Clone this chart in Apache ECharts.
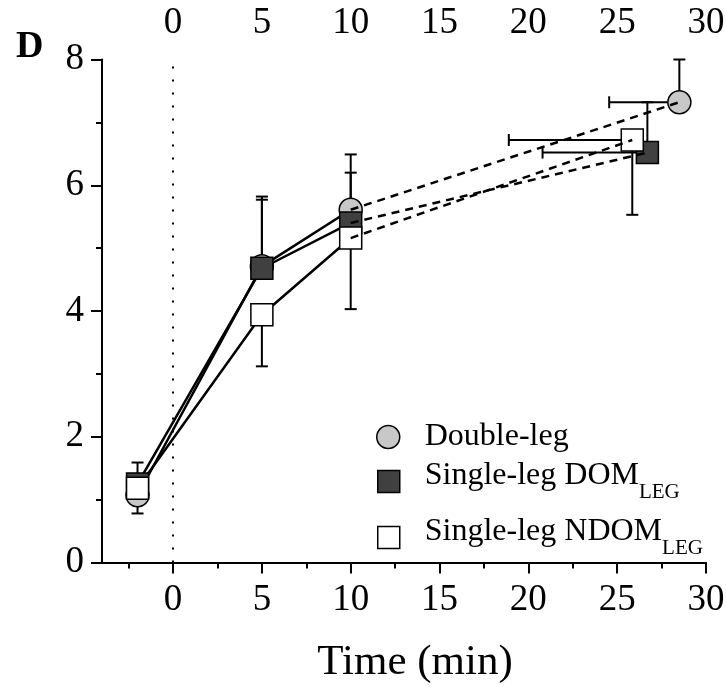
<!DOCTYPE html>
<html>
<head>
<meta charset="utf-8">
<script src="https://cdn.jsdelivr.net/npm/echarts@6/dist/echarts.min.js"></script>
<style>
  html, body { margin: 0; padding: 0; background: #fff; }
  #chart { width: 726px; height: 687px; }
</style>
</head>
<body>
<div id="chart"></div>
<script>
  // axis ticks (min)
  const xTicks = [0, 5, 10, 15, 20, 25, 30]
  const xMinorTicks = [-2.5, 2.5, 7.5, 12.5, 17.5, 22.5, 27.5]

  // group means
  const doubleX = [-2, 5, 10, 28.5]
  const doubleY = [1.07, 4.71, 5.61, 7.32]
  const domX = [-2, 5, 10, 26.7]
  const domY = [1.25, 4.68, 5.40, 6.52]
  const ndomX = [-2, 5, 10, 25.85]
  const ndomY = [1.18, 3.94, 5.16, 6.72]

  // end of the drawn error bar (one side only), null = none
  const doubleYErr = [0.78, 5.82, 6.49, 8.0]
  const doubleXErr = [null, null, null, 24.55]
  const domYErr = [1.59, 5.77, 6.2, 7.32]
  const domXErr = [null, null, null, 20.8]
  const ndomYErr = [null, 3.12, 4.03, 5.53]
  const ndomXErr = [null, null, null, 18.9]

  const FONT = 'Liberation Serif'

  function zip (xs, ys) {
    return xs.map((x, i) => [x, ys[i]])
  }

  function errSegments (xs, ys, yErr, xErr) {
    let out = []
    xs.forEach((x, i) => {
      if (yErr[i] != null) out.push([x, ys[i], x, yErr[i]])
      if (xErr[i] != null) out.push([x, ys[i], xErr[i], ys[i]])
    })
    return out
  }

  const errData = [].concat(
    errSegments(doubleX, doubleY, doubleYErr, doubleXErr),
    errSegments(domX, domY, domYErr, domXErr),
    errSegments(ndomX, ndomY, ndomYErr, ndomXErr)
  )

  function solidLine (xs, ys) {
    return {
      type: 'line', data: zip(xs, ys).slice(0, 3), symbol: 'none', silent: true,
      lineStyle: {color: '#000', width: 2.5}, z: 3
    }
  }
  function dashLine (xs, ys) {
    return {
      type: 'line', data: zip(xs, ys).slice(2), symbol: 'none', silent: true,
      lineStyle: {color: '#000', width: 2.5, type: [8, 6]}, z: 6
    }
  }

  const legendBase = {
    orient: 'vertical',
    padding: 0,
    selectedMode: false,
    itemWidth: 23,
    itemHeight: 23,
    itemStyle: {borderColor: '#000', borderWidth: 1.5},
    textStyle: {
      fontFamily: FONT,
      fontSize: 32,
      color: '#000',
      rich: {
        a: {fontFamily: FONT, fontSize: 32, color: '#000', padding: [0, 0, 0, 20], verticalAlign: 'top'},
        s: {fontFamily: FONT, fontSize: 21, color: '#000', padding: [22, 0, 0, 0], verticalAlign: 'top'}
      }
    },
    formatter: function (name) {
      if (name === 'Double-leg') return '{a|' + name + '}'
      return '{a|' + name + '}{s|LEG}'
    }
  }

  const myChart = echarts.init(document.getElementById('chart'))
  myChart.setOption({
    animation: false,
    title: {
      text: 'D', left: 11, top: 23,
      textStyle: {fontFamily: FONT, fontWeight: 'bold', fontSize: 38, color: '#000'}
    },
    legend: [
      Object.assign({}, legendBase, {data: ['Double-leg'], left: 376, top: 421}),
      Object.assign({}, legendBase, {data: ['Single-leg DOM'], left: 377, top: 460, itemWidth: 22, itemHeight: 22}),
      Object.assign({}, legendBase, {data: ['Single-leg NDOM'], left: 377, top: 516, itemWidth: 22, itemHeight: 22})
    ],
    grid: {left: 102, right: 20, top: 59.5, bottom: 124.5, containLabel: false, outerBoundsMode: 'none'},
    xAxis: [{
      type: 'value', position: 'bottom', min: -4, max: 30,
      name: 'Time (min)', nameLocation: 'middle', nameGap: 79,
      nameTextStyle: {fontFamily: FONT, fontSize: 43, color: '#000', padding: [0, 0, 0, 22]},
      axisLine: {onZero: false, lineStyle: {color: '#000', width: 2}},
      axisTick: {customValues: xTicks, length: 11, lineStyle: {color: '#000', width: 2}},
      axisLabel: {customValues: xTicks, margin: 19, fontFamily: FONT, fontSize: 37, color: '#000'},
      splitLine: {show: false}
    }, {
      // minor ticks only
      type: 'value', position: 'bottom', min: -4, max: 30,
      axisLine: {show: false, onZero: false},
      axisTick: {customValues: xMinorTicks, length: 6, lineStyle: {color: '#000', width: 2}},
      axisLabel: {show: false},
      splitLine: {show: false}
    }, {
      type: 'value', position: 'top', min: -4, max: 30,
      axisLine: {show: false, onZero: false},
      axisTick: {show: false},
      axisLabel: {customValues: xTicks, margin: 18, fontFamily: FONT, fontSize: 37, color: '#000'},
      splitLine: {show: false}
    }],
    yAxis: {
      type: 'value', min: 0, max: 8, interval: 2,
      axisLine: {show: true, onZero: false, lineStyle: {color: '#000', width: 2}},
      axisTick: {show: true, length: 11, lineStyle: {color: '#000', width: 2}},
      minorTick: {show: true, splitNumber: 2, length: 6, lineStyle: {color: '#000', width: 2}},
      axisLabel: {margin: 18, fontFamily: FONT, fontSize: 37, color: '#000'},
      splitLine: {show: false}
    },
    series: [
      {
        type: 'custom',
        silent: true,
        z: 2,
        data: errData,
        encode: {x: [0, 2], y: [1, 3]},
        renderItem: function (params, api) {
          const p0 = api.coord([api.value(0), api.value(1)])
          const p1 = api.coord([api.value(2), api.value(3)])
          const c = 6
          const vertical = api.value(0) === api.value(2)
          const cap = vertical
            ? {x1: p1[0] - c, y1: p1[1], x2: p1[0] + c, y2: p1[1]}
            : {x1: p1[0], y1: p1[1] - c, x2: p1[0], y2: p1[1] + c}
          const st = {stroke: '#000', lineWidth: 2}
          return {
            type: 'group',
            children: [
              {type: 'line', shape: {x1: p0[0], y1: p0[1], x2: p1[0], y2: p1[1]}, style: st},
              {type: 'line', shape: cap, style: st}
            ]
          }
        },
        markLine: {
          silent: true,
          symbol: ['none', 'none'],
          label: {show: false},
          lineStyle: {color: '#000', width: 2, type: [2, 11]},
          data: [{xAxis: 0}]
        }
      },
      solidLine(doubleX, doubleY),
      solidLine(domX, domY),
      solidLine(ndomX, ndomY),
      {
        name: 'Double-leg', type: 'scatter', data: zip(doubleX, doubleY),
        symbol: 'circle', symbolSize: 23, z: 4,
        itemStyle: {color: '#c8c8c8', borderColor: '#000', borderWidth: 1.5, opacity: 1}
      },
      {
        name: 'Single-leg DOM', type: 'scatter', data: zip(domX, domY),
        symbol: 'rect', symbolSize: 22, z: 4,
        itemStyle: {color: '#404040', borderColor: '#000', borderWidth: 1.5, opacity: 1}
      },
      {
        name: 'Single-leg NDOM', type: 'scatter', data: zip(ndomX, ndomY),
        symbol: 'rect', symbolSize: 22, z: 4,
        itemStyle: {color: '#ffffff', borderColor: '#000', borderWidth: 1.5, opacity: 1}
      },
      dashLine(doubleX, doubleY),
      dashLine(domX, domY),
      dashLine(ndomX, ndomY)
    ]
  })
</script>
</body>
</html>
